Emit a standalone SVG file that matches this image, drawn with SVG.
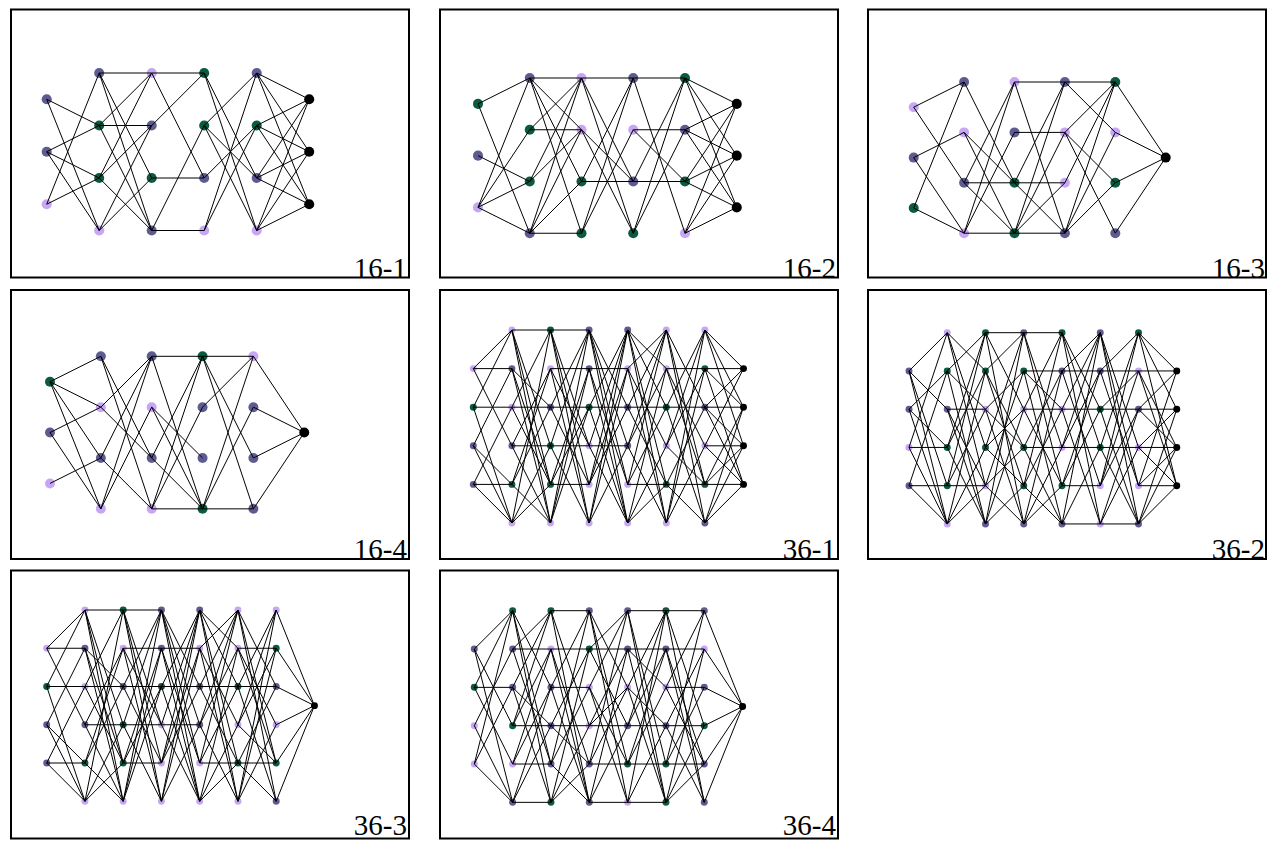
<svg xmlns="http://www.w3.org/2000/svg" xmlns:xlink="http://www.w3.org/1999/xlink" width="1283" height="841" viewBox="0 0 1283 841">
<style>
.s{fill:#5e5b91}.g{fill:#0b5b3e}.l{fill:#c7a6f6}.k{fill:#000}
.e{fill:none;stroke:#000;stroke-width:1px;vector-effect:non-scaling-stroke}
.f{fill:none;stroke:#000;stroke-width:2}
.t{font-family:"Liberation Serif","DejaVu Serif",serif;font-size:29px;fill:#000}
</style>
<defs>
<path id="e36a" class="e" vector-effect="non-scaling-stroke" d="M0 1L1 1M0 1L1 3M0 1L1 0M0 2L1 2M0 2L1 0M0 2L1 5M0 3L1 1M0 3L1 4M0 3L1 5M0 4L1 4M0 4L1 5M0 4L1 2M1 0L2 0M1 0L2 3M1 0L2 4M1 0L2 5M1 1L2 4M1 1L2 5M1 1L2 2M1 2L2 2M1 2L2 4M1 2L2 0M1 3L2 3M1 3L2 1M1 3L2 5M1 4L2 1M1 4L2 5M1 4L2 2M1 5L2 0M1 5L2 3M1 5L2 4M2 0L3 0M2 0L3 4M2 0L3 3M2 0L3 5M2 1L3 1M2 1L3 5M2 1L3 3M2 2L3 2M2 2L3 4M2 2L3 0M2 3L3 3M2 3L3 0M2 3L3 5M2 4L3 4M2 4L3 1M2 4L3 2M2 5L3 0M2 5L3 1M2 5L3 2M3 0L4 2M3 0L4 3M3 0L4 4M3 0L4 5M3 1L4 1M3 1L4 4M3 1L4 5M3 2L4 2M3 2L4 0M3 2L4 5M3 3L4 3M3 3L4 0M3 3L4 5M3 4L4 1M3 4L4 2M3 4L4 0M3 5L4 0M3 5L4 3M3 5L4 1M4 0L5 1M4 0L5 2M4 0L5 4M4 0L5 5M4 1L5 3M4 1L5 0M4 1L5 5M4 2L5 2M4 2L5 0M4 2L5 4M4 3L5 0M4 3L5 1M4 3L5 5M4 4L5 4M4 4L5 0M4 4L5 2M4 5L5 1M4 5L5 3M4 5L5 4M5 0L6 2M5 0L6 4M5 0L6 5M5 1L6 1M5 1L6 3M5 1L6 4M5 2L6 2M5 2L6 0M5 2L6 5M5 3L6 1M5 3L6 0M5 3L6 4M5 4L6 4M5 4L6 2M5 4L6 5M5 5L6 0M5 5L6 1M5 5L6 3"/>
</defs>

<!-- labels (drawn beneath frames) -->
<text class="t" x="407" y="278" text-anchor="end">16-1</text>
<text class="t" x="836" y="278" text-anchor="end">16-2</text>
<text class="t" x="1265" y="278" text-anchor="end">16-3</text>
<text class="t" x="407" y="558.5" text-anchor="end">16-4</text>
<text class="t" x="836" y="558.5" text-anchor="end">36-1</text>
<text class="t" x="1265" y="558.5" text-anchor="end">36-2</text>
<text class="t" x="407" y="834.5" text-anchor="end">36-3</text>
<text class="t" x="836" y="834.5" text-anchor="end">36-4</text>

<g id="frames">
<rect class="f" x="11" y="9.5" width="398" height="268"/>
<rect class="f" x="440" y="9.5" width="398" height="268"/>
<rect class="f" x="868" y="9.5" width="398" height="268"/>
<rect class="f" x="11" y="290" width="398" height="269"/>
<rect class="f" x="440" y="290" width="398" height="269"/>
<rect class="f" x="868" y="290" width="398" height="269"/>
<rect class="f" x="11" y="570.5" width="398" height="268"/>
<rect class="f" x="440" y="570.5" width="398" height="268"/>
</g>

<!-- 16-1 -->
<g id="panel-16-1" transform="translate(46.7 73) scale(52.5)">
<g id="p1-nodes">
<g id="p1-c0-r0"><circle class="s" cx="0" cy=".5" r=".096"/></g>
<g id="p1-c0-r1"><circle class="s" cx="0" cy="1.5" r=".096"/></g>
<g id="p1-c0-r2"><circle class="l" cx="0" cy="2.5" r=".096"/></g>
<g id="p1-c1-r0"><circle class="s" cx="1" cy="0" r=".096"/></g>
<g id="p1-c1-r1"><circle class="g" cx="1" cy="1" r=".096"/></g>
<g id="p1-c1-r2"><circle class="g" cx="1" cy="2" r=".096"/></g>
<g id="p1-c1-r3"><circle class="l" cx="1" cy="3" r=".096"/></g>
<g id="p1-c2-r0"><circle class="l" cx="2" cy="0" r=".096"/></g>
<g id="p1-c2-r1"><circle class="s" cx="2" cy="1" r=".096"/></g>
<g id="p1-c2-r2"><circle class="g" cx="2" cy="2" r=".096"/></g>
<g id="p1-c2-r3"><circle class="s" cx="2" cy="3" r=".096"/></g>
<g id="p1-c3-r0"><circle class="g" cx="3" cy="0" r=".096"/></g>
<g id="p1-c3-r1"><circle class="g" cx="3" cy="1" r=".096"/></g>
<g id="p1-c3-r2"><circle class="s" cx="3" cy="2" r=".096"/></g>
<g id="p1-c3-r3"><circle class="l" cx="3" cy="3" r=".096"/></g>
<g id="p1-c4-r0"><circle class="s" cx="4" cy="0" r=".096"/></g>
<g id="p1-c4-r1"><circle class="g" cx="4" cy="1" r=".096"/></g>
<g id="p1-c4-r2"><circle class="s" cx="4" cy="2" r=".096"/></g>
<g id="p1-c4-r3"><circle class="l" cx="4" cy="3" r=".096"/></g>
<g id="p1-c5-r0"><circle class="k" cx="5" cy=".5" r=".096"/></g>
<g id="p1-c5-r1"><circle class="k" cx="5" cy="1.5" r=".096"/></g>
<g id="p1-c5-r2"><circle class="k" cx="5" cy="2.5" r=".096"/></g>
</g>
<g id="p1-connectors"><path class="e" vector-effect="non-scaling-stroke" d="M0 .5L1 1M0 .5L1 3M0 1.5L1 1M0 1.5L1 2M0 1.5L1 3M0 2.5L1 0M0 2.5L1 2M1 0L2 0M1 0L2 2M1 0L2 3M1 1L2 1M1 1L2 0M1 1L2 3M1 2L2 0M1 2L2 1M1 2L2 3M1 3L2 1M1 3L2 2M2 0L3 0M2 0L3 2M2 1L3 0M2 2L3 2M2 3L3 3M2 3L3 1M3 0L4 2M3 0L4 3M3 1L4 0M3 1L4 2M3 1L4 3M3 2L4 1M3 3L4 0M3 3L4 1M4 0L5 .5M4 0L5 1.5M4 0L5 2.5M4 1L5 .5M4 1L5 1.5M4 1L5 2.5M4 2L5 .5M4 2L5 1.5M4 2L5 2.5M4 3L5 .5M4 3L5 1.5M4 3L5 2.5"/></g>
</g>

<!-- 16-2 -->
<g id="panel-16-2" transform="translate(478 78) scale(51.75)">
<g id="p2-nodes">
<g id="p2-c0-r0"><circle class="g" cx="0" cy=".5" r=".097"/></g>
<g id="p2-c0-r1"><circle class="s" cx="0" cy="1.5" r=".097"/></g>
<g id="p2-c0-r2"><circle class="l" cx="0" cy="2.5" r=".097"/></g>
<g id="p2-c1-r0"><circle class="s" cx="1" cy="0" r=".097"/></g>
<g id="p2-c1-r1"><circle class="g" cx="1" cy="1" r=".097"/></g>
<g id="p2-c1-r2"><circle class="g" cx="1" cy="2" r=".097"/></g>
<g id="p2-c1-r3"><circle class="s" cx="1" cy="3" r=".097"/></g>
<g id="p2-c2-r0"><circle class="l" cx="2" cy="0" r=".097"/></g>
<g id="p2-c2-r1"><circle class="l" cx="2" cy="1" r=".097"/></g>
<g id="p2-c2-r2"><circle class="g" cx="2" cy="2" r=".097"/></g>
<g id="p2-c2-r3"><circle class="g" cx="2" cy="3" r=".097"/></g>
<g id="p2-c3-r0"><circle class="s" cx="3" cy="0" r=".097"/></g>
<g id="p2-c3-r1"><circle class="l" cx="3" cy="1" r=".097"/></g>
<g id="p2-c3-r2"><circle class="s" cx="3" cy="2" r=".097"/></g>
<g id="p2-c3-r3"><circle class="g" cx="3" cy="3" r=".097"/></g>
<g id="p2-c4-r0"><circle class="g" cx="4" cy="0" r=".097"/></g>
<g id="p2-c4-r1"><circle class="s" cx="4" cy="1" r=".097"/></g>
<g id="p2-c4-r2"><circle class="g" cx="4" cy="2" r=".097"/></g>
<g id="p2-c4-r3"><circle class="l" cx="4" cy="3" r=".097"/></g>
<g id="p2-c5-r0"><circle class="k" cx="5" cy=".5" r=".097"/></g>
<g id="p2-c5-r1"><circle class="k" cx="5" cy="1.5" r=".097"/></g>
<g id="p2-c5-r2"><circle class="k" cx="5" cy="2.5" r=".097"/></g>
</g>
<g id="p2-connectors"><path class="e" vector-effect="non-scaling-stroke" d="M0 .5L1 0M0 .5L1 3M0 1.5L1 2M0 2.5L1 0M0 2.5L1 1M0 2.5L1 2M0 2.5L1 3M1 0L2 0M1 0L2 1M1 0L2 2M1 0L2 3M1 1L2 1M1 1L2 0M1 2L2 0M1 2L2 1M1 3L2 3M1 3L2 0M1 3L2 1M1 3L2 2M2 0L3 0M2 0L3 3M2 1L3 2M2 1L3 3M2 2L3 2M2 2L3 0M2 3L3 0M2 3L3 1M2 0L3 2M3 0L4 0M3 0L4 3M3 1L4 1M3 1L4 2M3 2L4 2M3 2L4 0M3 3L4 0M3 3L4 1M4 0L5 .5M4 0L5 1.5M4 0L5 2.5M4 1L5 .5M4 1L5 1.5M4 1L5 2.5M4 2L5 .5M4 2L5 1.5M4 2L5 2.5M4 3L5 .5M4 3L5 1.5M4 3L5 2.5"/></g>
</g>

<!-- 16-3 -->
<g id="panel-16-3" transform="translate(913.7 82) scale(50.4)">
<g id="p3-nodes">
<g id="p3-c0-r0"><circle class="l" cx="0" cy=".5" r=".099"/></g>
<g id="p3-c0-r1"><circle class="s" cx="0" cy="1.5" r=".099"/></g>
<g id="p3-c0-r2"><circle class="g" cx="0" cy="2.5" r=".099"/></g>
<g id="p3-c1-r0"><circle class="s" cx="1" cy="0" r=".099"/></g>
<g id="p3-c1-r1"><circle class="l" cx="1" cy="1" r=".099"/></g>
<g id="p3-c1-r2"><circle class="s" cx="1" cy="2" r=".099"/></g>
<g id="p3-c1-r3"><circle class="l" cx="1" cy="3" r=".099"/></g>
<g id="p3-c2-r0"><circle class="l" cx="2" cy="0" r=".099"/></g>
<g id="p3-c2-r1"><circle class="s" cx="2" cy="1" r=".099"/></g>
<g id="p3-c2-r2"><circle class="g" cx="2" cy="2" r=".099"/></g>
<g id="p3-c2-r3"><circle class="g" cx="2" cy="3" r=".099"/></g>
<g id="p3-c3-r0"><circle class="s" cx="3" cy="0" r=".099"/></g>
<g id="p3-c3-r1"><circle class="l" cx="3" cy="1" r=".099"/></g>
<g id="p3-c3-r2"><circle class="l" cx="3" cy="2" r=".099"/></g>
<g id="p3-c3-r3"><circle class="s" cx="3" cy="3" r=".099"/></g>
<g id="p3-c4-r0"><circle class="g" cx="4" cy="0" r=".099"/></g>
<g id="p3-c4-r1"><circle class="l" cx="4" cy="1" r=".099"/></g>
<g id="p3-c4-r2"><circle class="g" cx="4" cy="2" r=".099"/></g>
<g id="p3-c4-r3"><circle class="s" cx="4" cy="3" r=".099"/></g>
<g id="p3-c5-r0"><circle class="k" cx="5" cy="1.5" r=".099"/></g>
</g>
<g id="p3-connectors"><path class="e" vector-effect="non-scaling-stroke" d="M0 .5L1 0M0 .5L1 2M0 1.5L1 1M0 1.5L1 3M0 2.5L1 0M0 2.5L1 3M1 0L2 2M1 1L2 2M1 1L2 3M1 2L2 2M1 2L2 0M1 2L2 3M1 3L2 3M1 3L2 1M1 3L2 0M2 0L3 0M2 0L3 3M2 1L3 1M2 2L3 2M2 2L3 3M2 2L3 0M2 3L3 3M2 3L3 1M2 3L3 2M2 3L3 0M3 0L4 0M3 0L4 1M3 1L4 0M3 1L4 2M3 1L4 3M3 2L4 0M3 3L4 0M3 3L4 1M3 3L4 2M4 0L5 1.5M4 1L5 1.5M4 2L5 1.5M4 3L5 1.5"/></g>
</g>

<!-- 16-4 -->
<g id="panel-16-4" transform="translate(50 356.3) scale(50.85)">
<g id="p4-nodes">
<g id="p4-c0-r0"><circle class="g" cx="0" cy=".5" r=".098"/></g>
<g id="p4-c0-r1"><circle class="s" cx="0" cy="1.5" r=".098"/></g>
<g id="p4-c0-r2"><circle class="l" cx="0" cy="2.5" r=".098"/></g>
<g id="p4-c1-r0"><circle class="s" cx="1" cy="0" r=".098"/></g>
<g id="p4-c1-r1"><circle class="l" cx="1" cy="1" r=".098"/></g>
<g id="p4-c1-r2"><circle class="s" cx="1" cy="2" r=".098"/></g>
<g id="p4-c1-r3"><circle class="l" cx="1" cy="3" r=".098"/></g>
<g id="p4-c2-r0"><circle class="s" cx="2" cy="0" r=".098"/></g>
<g id="p4-c2-r1"><circle class="l" cx="2" cy="1" r=".098"/></g>
<g id="p4-c2-r2"><circle class="s" cx="2" cy="2" r=".098"/></g>
<g id="p4-c2-r3"><circle class="l" cx="2" cy="3" r=".098"/></g>
<g id="p4-c3-r0"><circle class="g" cx="3" cy="0" r=".098"/></g>
<g id="p4-c3-r1"><circle class="s" cx="3" cy="1" r=".098"/></g>
<g id="p4-c3-r2"><circle class="s" cx="3" cy="2" r=".098"/></g>
<g id="p4-c3-r3"><circle class="g" cx="3" cy="3" r=".098"/></g>
<g id="p4-c4-r0"><circle class="l" cx="4" cy="0" r=".098"/></g>
<g id="p4-c4-r1"><circle class="s" cx="4" cy="1" r=".098"/></g>
<g id="p4-c4-r2"><circle class="s" cx="4" cy="2" r=".098"/></g>
<g id="p4-c4-r3"><circle class="s" cx="4" cy="3" r=".098"/></g>
<g id="p4-c5-r0"><circle class="k" cx="5" cy="1.5" r=".098"/></g>
</g>
<g id="p4-connectors"><path class="e" vector-effect="non-scaling-stroke" d="M0 .5L1 0M0 .5L1 1M0 .5L1 2M0 .5L1 3M0 1.5L1 1M0 1.5L1 3M0 2.5L1 2M1 0L2 2M1 0L2 3M1 1L2 0M1 1L2 2M1 2L2 0M1 2L2 3M1 3L2 0M1 3L2 1M2 0L3 0M2 0L3 3M2 1L3 2M2 1L3 3M2 2L3 0M2 2L3 3M2 3L3 0M2 3L3 3M2 3L3 1M3 0L4 0M3 0L4 3M3 0L4 2M3 1L4 0M3 3L4 0M3 3L4 1M3 3L4 3M4 0L5 1.5M4 1L5 1.5M4 2L5 1.5M4 3L5 1.5"/></g>
</g>

<!-- 36-1 -->
<g id="panel-36-1" transform="translate(473.3 330) scale(38.6)">
<g id="p5-nodes">
<g id="p5-c0-r1"><circle class="l" cx="0" cy="1" r=".09"/></g>
<g id="p5-c0-r2"><circle class="g" cx="0" cy="2" r=".09"/></g>
<g id="p5-c0-r3"><circle class="s" cx="0" cy="3" r=".09"/></g>
<g id="p5-c0-r4"><circle class="s" cx="0" cy="4" r=".09"/></g>
<g id="p5-c1-r0"><circle class="l" cx="1" cy="0" r=".09"/></g>
<g id="p5-c1-r1"><circle class="s" cx="1" cy="1" r=".09"/></g>
<g id="p5-c1-r2"><circle class="l" cx="1" cy="2" r=".09"/></g>
<g id="p5-c1-r3"><circle class="s" cx="1" cy="3" r=".09"/></g>
<g id="p5-c1-r4"><circle class="g" cx="1" cy="4" r=".09"/></g>
<g id="p5-c1-r5"><circle class="l" cx="1" cy="5" r=".09"/></g>
<g id="p5-c2-r0"><circle class="g" cx="2" cy="0" r=".09"/></g>
<g id="p5-c2-r1"><circle class="l" cx="2" cy="1" r=".09"/></g>
<g id="p5-c2-r2"><circle class="s" cx="2" cy="2" r=".09"/></g>
<g id="p5-c2-r3"><circle class="g" cx="2" cy="3" r=".09"/></g>
<g id="p5-c2-r4"><circle class="g" cx="2" cy="4" r=".09"/></g>
<g id="p5-c2-r5"><circle class="l" cx="2" cy="5" r=".09"/></g>
<g id="p5-c3-r0"><circle class="s" cx="3" cy="0" r=".09"/></g>
<g id="p5-c3-r1"><circle class="s" cx="3" cy="1" r=".09"/></g>
<g id="p5-c3-r2"><circle class="g" cx="3" cy="2" r=".09"/></g>
<g id="p5-c3-r3"><circle class="l" cx="3" cy="3" r=".09"/></g>
<g id="p5-c3-r4"><circle class="l" cx="3" cy="4" r=".09"/></g>
<g id="p5-c3-r5"><circle class="l" cx="3" cy="5" r=".09"/></g>
<g id="p5-c4-r0"><circle class="s" cx="4" cy="0" r=".09"/></g>
<g id="p5-c4-r1"><circle class="l" cx="4" cy="1" r=".09"/></g>
<g id="p5-c4-r2"><circle class="s" cx="4" cy="2" r=".09"/></g>
<g id="p5-c4-r3"><circle class="s" cx="4" cy="3" r=".09"/></g>
<g id="p5-c4-r4"><circle class="l" cx="4" cy="4" r=".09"/></g>
<g id="p5-c4-r5"><circle class="l" cx="4" cy="5" r=".09"/></g>
<g id="p5-c5-r0"><circle class="l" cx="5" cy="0" r=".09"/></g>
<g id="p5-c5-r1"><circle class="l" cx="5" cy="1" r=".09"/></g>
<g id="p5-c5-r2"><circle class="g" cx="5" cy="2" r=".09"/></g>
<g id="p5-c5-r3"><circle class="l" cx="5" cy="3" r=".09"/></g>
<g id="p5-c5-r4"><circle class="g" cx="5" cy="4" r=".09"/></g>
<g id="p5-c5-r5"><circle class="l" cx="5" cy="5" r=".09"/></g>
<g id="p5-c6-r0"><circle class="l" cx="6" cy="0" r=".09"/></g>
<g id="p5-c6-r1"><circle class="g" cx="6" cy="1" r=".09"/></g>
<g id="p5-c6-r2"><circle class="s" cx="6" cy="2" r=".09"/></g>
<g id="p5-c6-r3"><circle class="l" cx="6" cy="3" r=".09"/></g>
<g id="p5-c6-r4"><circle class="g" cx="6" cy="4" r=".09"/></g>
<g id="p5-c6-r5"><circle class="s" cx="6" cy="5" r=".09"/></g>
<g id="p5-c7-r1"><circle class="k" cx="7" cy="1" r=".09"/></g>
<g id="p5-c7-r2"><circle class="k" cx="7" cy="2" r=".09"/></g>
<g id="p5-c7-r3"><circle class="k" cx="7" cy="3" r=".09"/></g>
<g id="p5-c7-r4"><circle class="k" cx="7" cy="4" r=".09"/></g>
</g>
<g id="p5-connectors"><use xlink:href="#e36a" href="#e36a"/><path class="e" vector-effect="non-scaling-stroke" d="M6 0L7 1M6 0L7 2M6 0L7 3M6 1L7 1M6 1L7 2M6 1L7 4M6 2L7 2M6 2L7 1M6 2L7 3M6 2L7 4M6 3L7 3M6 3L7 1M6 3L7 4M6 4L7 4M6 4L7 2M6 4L7 3M6 5L7 4M6 5L7 2M6 5L7 3"/></g>
</g>

<!-- 36-2 -->
<g id="panel-36-2" transform="translate(909 332.7) scale(38.25)">
<g id="p6-nodes">
<g id="p6-c0-r1"><circle class="s" cx="0" cy="1" r=".091"/></g>
<g id="p6-c0-r2"><circle class="s" cx="0" cy="2" r=".091"/></g>
<g id="p6-c0-r3"><circle class="l" cx="0" cy="3" r=".091"/></g>
<g id="p6-c0-r4"><circle class="s" cx="0" cy="4" r=".091"/></g>
<g id="p6-c1-r0"><circle class="l" cx="1" cy="0" r=".091"/></g>
<g id="p6-c1-r1"><circle class="g" cx="1" cy="1" r=".091"/></g>
<g id="p6-c1-r2"><circle class="s" cx="1" cy="2" r=".091"/></g>
<g id="p6-c1-r3"><circle class="g" cx="1" cy="3" r=".091"/></g>
<g id="p6-c1-r4"><circle class="g" cx="1" cy="4" r=".091"/></g>
<g id="p6-c1-r5"><circle class="l" cx="1" cy="5" r=".091"/></g>
<g id="p6-c2-r0"><circle class="g" cx="2" cy="0" r=".091"/></g>
<g id="p6-c2-r1"><circle class="g" cx="2" cy="1" r=".091"/></g>
<g id="p6-c2-r2"><circle class="l" cx="2" cy="2" r=".091"/></g>
<g id="p6-c2-r3"><circle class="g" cx="2" cy="3" r=".091"/></g>
<g id="p6-c2-r4"><circle class="l" cx="2" cy="4" r=".091"/></g>
<g id="p6-c2-r5"><circle class="s" cx="2" cy="5" r=".091"/></g>
<g id="p6-c3-r0"><circle class="s" cx="3" cy="0" r=".091"/></g>
<g id="p6-c3-r1"><circle class="g" cx="3" cy="1" r=".091"/></g>
<g id="p6-c3-r2"><circle class="l" cx="3" cy="2" r=".091"/></g>
<g id="p6-c3-r3"><circle class="g" cx="3" cy="3" r=".091"/></g>
<g id="p6-c3-r4"><circle class="g" cx="3" cy="4" r=".091"/></g>
<g id="p6-c3-r5"><circle class="s" cx="3" cy="5" r=".091"/></g>
<g id="p6-c4-r0"><circle class="g" cx="4" cy="0" r=".091"/></g>
<g id="p6-c4-r1"><circle class="s" cx="4" cy="1" r=".091"/></g>
<g id="p6-c4-r2"><circle class="l" cx="4" cy="2" r=".091"/></g>
<g id="p6-c4-r3"><circle class="l" cx="4" cy="3" r=".091"/></g>
<g id="p6-c4-r4"><circle class="g" cx="4" cy="4" r=".091"/></g>
<g id="p6-c4-r5"><circle class="s" cx="4" cy="5" r=".091"/></g>
<g id="p6-c5-r0"><circle class="s" cx="5" cy="0" r=".091"/></g>
<g id="p6-c5-r1"><circle class="s" cx="5" cy="1" r=".091"/></g>
<g id="p6-c5-r2"><circle class="g" cx="5" cy="2" r=".091"/></g>
<g id="p6-c5-r3"><circle class="g" cx="5" cy="3" r=".091"/></g>
<g id="p6-c5-r4"><circle class="l" cx="5" cy="4" r=".091"/></g>
<g id="p6-c5-r5"><circle class="l" cx="5" cy="5" r=".091"/></g>
<g id="p6-c6-r0"><circle class="g" cx="6" cy="0" r=".091"/></g>
<g id="p6-c6-r1"><circle class="l" cx="6" cy="1" r=".091"/></g>
<g id="p6-c6-r2"><circle class="s" cx="6" cy="2" r=".091"/></g>
<g id="p6-c6-r3"><circle class="l" cx="6" cy="3" r=".091"/></g>
<g id="p6-c6-r4"><circle class="l" cx="6" cy="4" r=".091"/></g>
<g id="p6-c6-r5"><circle class="s" cx="6" cy="5" r=".091"/></g>
<g id="p6-c7-r1"><circle class="k" cx="7" cy="1" r=".091"/></g>
<g id="p6-c7-r2"><circle class="k" cx="7" cy="2" r=".091"/></g>
<g id="p6-c7-r3"><circle class="k" cx="7" cy="3" r=".091"/></g>
<g id="p6-c7-r4"><circle class="k" cx="7" cy="4" r=".091"/></g>
</g>
<g id="p6-connectors"><path class="e" vector-effect="non-scaling-stroke" d="M0 1L1 0M0 1L1 2M0 1L1 4M0 1L1 5M0 2L1 1M0 2L1 3M0 2L1 5M0 3L1 3M0 3L1 0M0 3L1 5M0 4L1 4M0 4L1 1M0 4L1 5M1 0L2 1M1 0L2 3M1 0L2 4M1 1L2 0M1 1L2 2M1 1L2 5M1 2L2 2M1 2L2 4M1 2L2 5M1 3L2 0M1 3L2 1M1 3L2 5M1 4L2 4M1 4L2 2M1 4L2 0M1 5L2 1M1 5L2 3M1 5L2 4M2 0L3 0M2 0L3 2M2 0L3 5M2 1L3 3M2 1L3 4M2 1L3 0M2 2L3 1M2 2L3 5M2 2L3 3M2 3L3 0M2 3L3 2M2 3L3 4M2 4L3 1M2 4L3 5M2 4L3 3M2 5L3 0M2 5L3 2M2 5L3 4M3 0L4 0M3 0L4 3M3 0L4 4M3 1L4 1M3 1L4 5M3 1L4 2M3 2L4 2M3 2L4 0M3 2L4 4M3 3L4 3M3 3L4 1M3 3L4 5M3 4L4 0M3 4L4 2M3 4L4 5M3 5L4 1M3 5L4 3M3 5L4 4M4 0L5 2M4 0L5 3M4 0L5 5M4 1L5 1M4 1L5 4M4 1L5 0M4 2L5 2M4 2L5 0M4 2L5 5M4 3L5 3M4 3L5 1M4 3L5 0M4 4L5 4M4 4L5 2M4 4L5 1M4 5L5 5M4 5L5 0M4 5L5 3M5 0L6 3M5 0L6 4M5 0L6 5M5 1L6 1M5 1L6 0M5 1L6 4M5 2L6 2M5 2L6 5M5 2L6 1M5 3L6 3M5 3L6 0M5 3L6 5M5 4L6 0M5 4L6 2M5 4L6 1M5 5L6 5M5 5L6 2M5 5L6 3M6 0L7 1M6 0L7 2M6 0L7 4M6 1L7 1M6 1L7 3M6 1L7 4M6 2L7 2M6 2L7 1M6 2L7 3M6 3L7 3M6 3L7 2M6 3L7 4M6 4L7 4M6 4L7 1M6 4L7 3M6 5L7 2M6 5L7 3M6 5L7 4"/></g>
</g>

<!-- 36-3 -->
<g id="panel-36-3" transform="translate(46.7 610) scale(38.25)">
<g id="p7-nodes">
<g id="p7-c0-r1"><circle class="l" cx="0" cy="1" r=".091"/></g>
<g id="p7-c0-r2"><circle class="g" cx="0" cy="2" r=".091"/></g>
<g id="p7-c0-r3"><circle class="s" cx="0" cy="3" r=".091"/></g>
<g id="p7-c0-r4"><circle class="s" cx="0" cy="4" r=".091"/></g>
<g id="p7-c1-r0"><circle class="l" cx="1" cy="0" r=".091"/></g>
<g id="p7-c1-r1"><circle class="s" cx="1" cy="1" r=".091"/></g>
<g id="p7-c1-r2"><circle class="l" cx="1" cy="2" r=".091"/></g>
<g id="p7-c1-r3"><circle class="s" cx="1" cy="3" r=".091"/></g>
<g id="p7-c1-r4"><circle class="g" cx="1" cy="4" r=".091"/></g>
<g id="p7-c1-r5"><circle class="l" cx="1" cy="5" r=".091"/></g>
<g id="p7-c2-r0"><circle class="g" cx="2" cy="0" r=".091"/></g>
<g id="p7-c2-r1"><circle class="l" cx="2" cy="1" r=".091"/></g>
<g id="p7-c2-r2"><circle class="s" cx="2" cy="2" r=".091"/></g>
<g id="p7-c2-r3"><circle class="g" cx="2" cy="3" r=".091"/></g>
<g id="p7-c2-r4"><circle class="g" cx="2" cy="4" r=".091"/></g>
<g id="p7-c2-r5"><circle class="l" cx="2" cy="5" r=".091"/></g>
<g id="p7-c3-r0"><circle class="s" cx="3" cy="0" r=".091"/></g>
<g id="p7-c3-r1"><circle class="s" cx="3" cy="1" r=".091"/></g>
<g id="p7-c3-r2"><circle class="g" cx="3" cy="2" r=".091"/></g>
<g id="p7-c3-r3"><circle class="l" cx="3" cy="3" r=".091"/></g>
<g id="p7-c3-r4"><circle class="l" cx="3" cy="4" r=".091"/></g>
<g id="p7-c3-r5"><circle class="l" cx="3" cy="5" r=".091"/></g>
<g id="p7-c4-r0"><circle class="s" cx="4" cy="0" r=".091"/></g>
<g id="p7-c4-r1"><circle class="l" cx="4" cy="1" r=".091"/></g>
<g id="p7-c4-r2"><circle class="s" cx="4" cy="2" r=".091"/></g>
<g id="p7-c4-r3"><circle class="s" cx="4" cy="3" r=".091"/></g>
<g id="p7-c4-r4"><circle class="l" cx="4" cy="4" r=".091"/></g>
<g id="p7-c4-r5"><circle class="l" cx="4" cy="5" r=".091"/></g>
<g id="p7-c5-r0"><circle class="l" cx="5" cy="0" r=".091"/></g>
<g id="p7-c5-r1"><circle class="l" cx="5" cy="1" r=".091"/></g>
<g id="p7-c5-r2"><circle class="g" cx="5" cy="2" r=".091"/></g>
<g id="p7-c5-r3"><circle class="l" cx="5" cy="3" r=".091"/></g>
<g id="p7-c5-r4"><circle class="g" cx="5" cy="4" r=".091"/></g>
<g id="p7-c5-r5"><circle class="l" cx="5" cy="5" r=".091"/></g>
<g id="p7-c6-r0"><circle class="l" cx="6" cy="0" r=".091"/></g>
<g id="p7-c6-r1"><circle class="g" cx="6" cy="1" r=".091"/></g>
<g id="p7-c6-r2"><circle class="s" cx="6" cy="2" r=".091"/></g>
<g id="p7-c6-r3"><circle class="l" cx="6" cy="3" r=".091"/></g>
<g id="p7-c6-r4"><circle class="g" cx="6" cy="4" r=".091"/></g>
<g id="p7-c6-r5"><circle class="s" cx="6" cy="5" r=".091"/></g>
<g id="p7-c7-r0"><circle class="k" cx="7" cy="2.5" r=".091"/></g>
</g>
<g id="p7-connectors"><use xlink:href="#e36a" href="#e36a"/><path class="e" vector-effect="non-scaling-stroke" d="M6 0L7 2.5M6 1L7 2.5M6 2L7 2.5M6 3L7 2.5M6 4L7 2.5M6 5L7 2.5"/></g>
</g>

<!-- 36-4 -->
<g id="panel-36-4" transform="translate(474.3 610.7) scale(38.33)">
<g id="p8-nodes">
<g id="p8-c0-r1"><circle class="s" cx="0" cy="1" r=".091"/></g>
<g id="p8-c0-r2"><circle class="g" cx="0" cy="2" r=".091"/></g>
<g id="p8-c0-r3"><circle class="l" cx="0" cy="3" r=".091"/></g>
<g id="p8-c0-r4"><circle class="l" cx="0" cy="4" r=".091"/></g>
<g id="p8-c1-r0"><circle class="g" cx="1" cy="0" r=".091"/></g>
<g id="p8-c1-r1"><circle class="s" cx="1" cy="1" r=".091"/></g>
<g id="p8-c1-r2"><circle class="s" cx="1" cy="2" r=".091"/></g>
<g id="p8-c1-r3"><circle class="g" cx="1" cy="3" r=".091"/></g>
<g id="p8-c1-r4"><circle class="l" cx="1" cy="4" r=".091"/></g>
<g id="p8-c1-r5"><circle class="s" cx="1" cy="5" r=".091"/></g>
<g id="p8-c2-r0"><circle class="g" cx="2" cy="0" r=".091"/></g>
<g id="p8-c2-r1"><circle class="l" cx="2" cy="1" r=".091"/></g>
<g id="p8-c2-r2"><circle class="s" cx="2" cy="2" r=".091"/></g>
<g id="p8-c2-r3"><circle class="s" cx="2" cy="3" r=".091"/></g>
<g id="p8-c2-r4"><circle class="s" cx="2" cy="4" r=".091"/></g>
<g id="p8-c2-r5"><circle class="g" cx="2" cy="5" r=".091"/></g>
<g id="p8-c3-r0"><circle class="s" cx="3" cy="0" r=".091"/></g>
<g id="p8-c3-r1"><circle class="g" cx="3" cy="1" r=".091"/></g>
<g id="p8-c3-r2"><circle class="l" cx="3" cy="2" r=".091"/></g>
<g id="p8-c3-r3"><circle class="l" cx="3" cy="3" r=".091"/></g>
<g id="p8-c3-r4"><circle class="s" cx="3" cy="4" r=".091"/></g>
<g id="p8-c3-r5"><circle class="s" cx="3" cy="5" r=".091"/></g>
<g id="p8-c4-r0"><circle class="s" cx="4" cy="0" r=".091"/></g>
<g id="p8-c4-r1"><circle class="s" cx="4" cy="1" r=".091"/></g>
<g id="p8-c4-r2"><circle class="l" cx="4" cy="2" r=".091"/></g>
<g id="p8-c4-r3"><circle class="s" cx="4" cy="3" r=".091"/></g>
<g id="p8-c4-r4"><circle class="g" cx="4" cy="4" r=".091"/></g>
<g id="p8-c4-r5"><circle class="l" cx="4" cy="5" r=".091"/></g>
<g id="p8-c5-r0"><circle class="g" cx="5" cy="0" r=".091"/></g>
<g id="p8-c5-r1"><circle class="s" cx="5" cy="1" r=".091"/></g>
<g id="p8-c5-r2"><circle class="l" cx="5" cy="2" r=".091"/></g>
<g id="p8-c5-r3"><circle class="s" cx="5" cy="3" r=".091"/></g>
<g id="p8-c5-r4"><circle class="g" cx="5" cy="4" r=".091"/></g>
<g id="p8-c5-r5"><circle class="g" cx="5" cy="5" r=".091"/></g>
<g id="p8-c6-r0"><circle class="s" cx="6" cy="0" r=".091"/></g>
<g id="p8-c6-r1"><circle class="l" cx="6" cy="1" r=".091"/></g>
<g id="p8-c6-r2"><circle class="s" cx="6" cy="2" r=".091"/></g>
<g id="p8-c6-r3"><circle class="g" cx="6" cy="3" r=".091"/></g>
<g id="p8-c6-r4"><circle class="s" cx="6" cy="4" r=".091"/></g>
<g id="p8-c6-r5"><circle class="s" cx="6" cy="5" r=".091"/></g>
<g id="p8-c7-r0"><circle class="k" cx="7" cy="2.5" r=".091"/></g>
</g>
<g id="p8-connectors"><path class="e" vector-effect="non-scaling-stroke" d="M0 1L1 0M0 1L1 3M0 1L1 5M0 2L1 2M0 2L1 0M0 2L1 4M0 3L1 1M0 3L1 5M0 4L1 2M0 4L1 0M0 4L1 5M1 0L2 2M1 0L2 4M1 0L2 5M1 1L2 1M1 1L2 0M1 1L2 4M1 2L2 5M1 2L2 0M1 2L2 3M1 3L2 3M1 3L2 1M1 3L2 0M1 4L2 4M1 4L2 1M1 4L2 2M1 5L2 5M1 5L2 2M1 5L2 3M2 0L3 0M2 0L3 3M2 0L3 5M2 1L3 1M2 1L3 4M2 1L3 5M2 2L3 2M2 2L3 0M2 2L3 5M2 3L3 3M2 3L3 1M2 3L3 4M2 4L3 2M2 4L3 5M2 4L3 0M2 5L3 1M2 5L3 3M2 5L3 4M3 0L4 2M3 0L4 4M3 0L4 5M3 1L4 1M3 1L4 0M3 1L4 3M3 2L4 0M3 2L4 4M3 2L4 5M3 3L4 3M3 3L4 1M3 3L4 2M3 4L4 4M3 4L4 0M3 4L4 2M3 5L4 5M3 5L4 1M3 5L4 3M4 0L5 0M4 0L5 4M4 0L5 5M4 1L5 1M4 1L5 2M4 1L5 5M4 2L5 0M4 2L5 3M4 2L5 5M4 3L5 3M4 3L5 0M4 3L5 1M4 4L5 4M4 4L5 2M4 4L5 1M4 5L5 5M4 5L5 0M4 5L5 3M5 0L6 0M5 0L6 3M5 0L6 5M5 1L6 1M5 1L6 4M5 1L6 5M5 2L6 2M5 2L6 0M5 2L6 4M5 3L6 3M5 3L6 1M5 3L6 5M5 4L6 4M5 4L6 0M5 4L6 2M5 5L6 1M5 5L6 3M5 5L6 4M6 0L7 2.5M6 1L7 2.5M6 2L7 2.5M6 3L7 2.5M6 4L7 2.5M6 5L7 2.5"/></g>
</g>
</svg>
